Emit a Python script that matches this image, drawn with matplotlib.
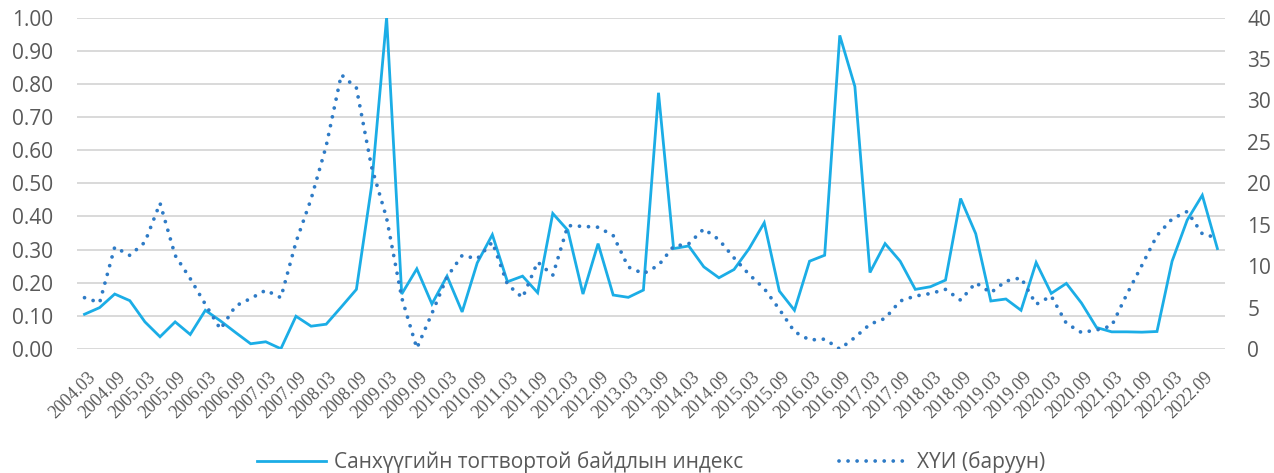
import numpy as np
import matplotlib.pyplot as plt

# quarterly periods 2004.03 - 2022.12
periods = [f"{y}.{m}" for y in range(2004, 2023) for m in ("03", "06", "09", "12")]

# financial stability index (left axis)
fsi = [0.105, 0.125, 0.166, 0.146, 0.082, 0.037, 0.082, 0.044, 0.117, 0.085,
       0.050, 0.016, 0.022, 0.001, 0.099, 0.069, 0.075, 0.127, 0.180, 0.490,
       1.000, 0.166, 0.242, 0.136, 0.220, 0.112, 0.260, 0.345, 0.203, 0.220,
       0.170, 0.409, 0.358, 0.166, 0.318, 0.163, 0.156, 0.178, 0.773, 0.303,
       0.311, 0.248, 0.215, 0.240, 0.303, 0.381, 0.175, 0.117, 0.265, 0.283,
       0.946, 0.792, 0.231, 0.318, 0.265, 0.180, 0.188, 0.208, 0.454, 0.348,
       0.145, 0.151, 0.117, 0.261, 0.168, 0.198, 0.139, 0.065, 0.052, 0.052,
       0.051, 0.053, 0.265, 0.389, 0.464, 0.303]

# CPI inflation (right axis)
cpi = [6.2, 5.6, 12.3, 11.3, 12.9, 17.6, 11.3, 8.5, 5.4, 2.4,
       5.2, 6.1, 7.1, 6.2, 12.9, 18.1, 24.5, 33.1, 31.5, 22.0,
       15.8, 6.2, 0.1, 4.3, 8.7, 11.3, 10.9, 12.9, 7.8, 6.2,
       10.5, 8.9, 14.9, 14.8, 14.7, 13.7, 9.9, 9.1, 10.1, 12.4,
       12.7, 14.5, 13.2, 11.0, 9.0, 7.3, 4.8, 2.1, 1.1, 1.2,
       0.0, 1.4, 3.0, 3.7, 5.8, 6.4, 6.7, 7.2, 5.9, 8.0,
       6.8, 8.2, 8.6, 5.4, 6.4, 3.1, 2.0, 2.3, 2.8, 6.6,
       10.1, 13.7, 15.7, 16.6, 13.9, 13.4]

label_fsi = "Санхүүгийн тогтвортой байдлын индекс"
label_cpi = "ХҮИ (баруун)"

plt.rcParams['font.family'] = ['Open Sans', 'DejaVu Sans']
txt_color = '#595959'

fig, ax = plt.subplots(figsize=(12.74, 4.73), dpi=100)
fig.subplots_adjust(left=0.0604, right=0.9615, top=0.963, bottom=0.262)
ax2 = ax.twinx()

x = np.arange(len(periods))
l1, = ax.plot(x, fsi, color='#1BADE6', lw=2.0, solid_joinstyle='miter', label=label_fsi)
l2, = ax2.plot(x, cpi, color='#2E7BC6', lw=2.7, linestyle=(0, (0.01, 2.4)),
               dash_capstyle='round', label=label_cpi)

ax.set_xlim(-0.5, len(periods) - 0.5)
ax.set_ylim(0, 1.0)
ax2.set_ylim(0, 40)
ax.set_yticks(np.arange(0, 1.01, 0.1))
ax.set_yticklabels([f"{v:.2f}" for v in np.arange(0, 1.01, 0.1)])
ax2.set_yticks(np.arange(0, 41, 5))

ax.grid(axis='y', color='#D9D9D9', lw=1.4)
ax.set_axisbelow(True)
for a in (ax, ax2):
    for s in a.spines.values():
        s.set_visible(False)
    a.tick_params(axis='y', length=0, labelsize=15, labelcolor=txt_color)
ax.tick_params(axis='y', pad=17)
ax2.tick_params(axis='y', pad=16)

# x axis: every other quarter, serif labels rotated 45 degrees
ax.set_xticks(x[::2] + 0.15)
ax.set_xticklabels(periods[::2])
ax.tick_params(axis='x', length=0, pad=14, labelsize=13, labelcolor=txt_color,
               labelfontfamily='Liberation Serif', labelrotation=45)
for t in ax.get_xticklabels():
    t.set_horizontalalignment('right')
    t.set_rotation_mode('anchor')

fig.legend(handles=[l1, l2], loc='lower center', bbox_to_anchor=(0.511, -0.04),
           ncol=2, frameon=False, fontsize=15, handlelength=3.3,
           columnspacing=4.6, handletextpad=0.4, labelcolor=txt_color)

fig.savefig('out.png', dpi=100)
